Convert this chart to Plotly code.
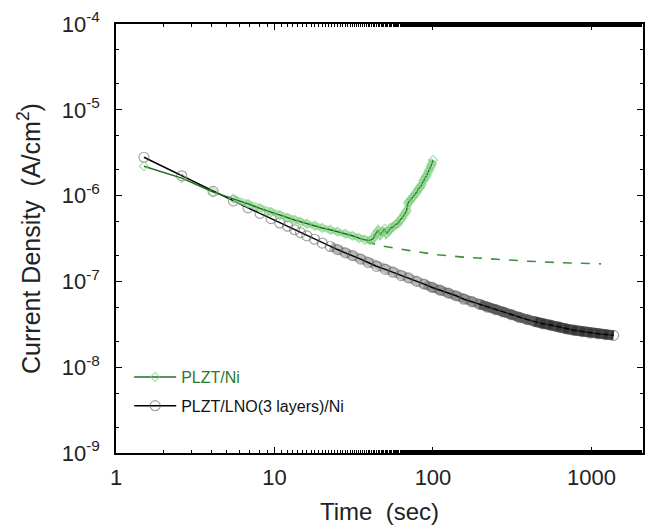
import plotly.graph_objects as go

# ---- data ----
t_lno = [1.5, 2.6, 4.1, 5.5, 6.8, 8.1, 9.5, 10.8, 12.1, 13.4, 14.6, 16, 17.9, 20, 22.5, 25, 28, 31, 35, 39,
         44, 50, 56, 63, 70, 79, 88, 99, 111, 125, 140, 157, 176, 197, 221, 248, 278, 312, 350, 392,
         440, 493, 553, 620, 695, 780, 875, 980, 1100, 1230, 1380]
j_lno = [2.8e-6, 1.7e-6, 1.12e-6, 8.7e-7, 7.2e-7, 6.2e-7, 5.4e-7, 4.8e-7, 4.4e-7, 4.0e-7, 3.7e-7, 3.4e-7,
         3.1e-7, 2.8e-7, 2.55e-7, 2.35e-7, 2.15e-7, 2.0e-7, 1.82e-7, 1.66e-7,
         1.5e-7, 1.38e-7, 1.28e-7, 1.17e-7, 1.1e-7, 1.0e-7, 9.3e-8, 8.5e-8, 7.9e-8, 7.3e-8, 6.8e-8, 6.2e-8,
         5.8e-8, 5.4e-8, 5.0e-8, 4.7e-8, 4.4e-8, 4.1e-8, 3.8e-8, 3.6e-8,
         3.4e-8, 3.2e-8, 3.1e-8, 2.95e-8, 2.8e-8, 2.7e-8, 2.6e-8, 2.5e-8, 2.45e-8, 2.4e-8, 2.35e-8]

t_ni = [1.5, 2.6, 4.1, 5.5, 6.8, 8.1, 9.5, 10.8, 12.1, 13.4, 14.6, 16, 18, 20, 22.5, 25, 28, 31, 34, 37,
        40, 42, 43.5, 45, 46.5, 48, 49.5, 51, 52.5, 54, 56, 58, 60, 62, 64, 66, 68, 69.5, 71, 73,
        75, 77, 79, 81, 83, 85, 87, 89, 91, 93, 95, 97, 98.5, 100]
j_ni = [2.2e-6, 1.6e-6, 1.1e-6, 9.2e-7, 8.0e-7, 7.1e-7, 6.4e-7, 5.9e-7, 5.5e-7, 5.2e-7, 4.95e-7, 4.7e-7,
        4.45e-7, 4.2e-7, 4.0e-7, 3.8e-7, 3.6e-7, 3.4e-7, 3.2e-7, 3.05e-7,
        3.0e-7, 3.15e-7, 3.6e-7, 3.9e-7, 3.5e-7, 3.8e-7, 4.1e-7, 3.6e-7, 3.9e-7, 4.2e-7, 4.3e-7, 4.6e-7,
        4.7e-7, 5.2e-7, 5.5e-7, 6.1e-7, 6.6e-7, 8.2e-7, 8.6e-7, 9.2e-7,
        9.6e-7, 1.05e-6, 1.1e-6, 1.2e-6, 1.25e-6, 1.35e-6, 1.5e-6, 1.6e-6, 1.7e-6, 1.85e-6, 2.0e-6,
        2.2e-6, 2.35e-6, 2.6e-6]

t_ni_fit = [38, 47, 70, 105, 155, 250, 395, 650, 1150]
j_ni_fit = [2.9e-7, 2.6e-7, 2.3e-7, 2.05e-7, 1.92e-7, 1.8e-7, 1.72e-7, 1.65e-7, 1.6e-7]

x_tickvals = [1, 10, 100, 1000]
x_ticktext = ["1", "10", "100", "1000"]
y_tickvals = [1e-4, 1e-5, 1e-6, 1e-7, 1e-8, 1e-9]
y_ticktext = ["10<sup>-4</sup>", "10<sup>-5</sup>", "10<sup>-6</sup>", "10<sup>-7</sup>",
              "10<sup>-8</sup>", "10<sup>-9</sup>"]

FONT = "Liberation Sans, Arial, sans-serif"
GREEN = "#236b23"
LGREEN = "rgba(120,205,120,0.6)"

fig = go.Figure()

# overlapping circles of the LNO data merge into a band (grey, darkening at long times)
for start, col, w in [(14, "rgba(80,80,80,0.40)", 9), (26, "rgba(50,50,50,0.30)", 9.5),
                      (33, "rgba(25,25,25,0.45)", 10), (40, "rgba(10,10,10,0.45)", 10.5)]:
    fig.add_trace(go.Scatter(x=t_lno[start:], y=j_lno[start:], mode="lines",
                             line=dict(color=col, width=w),
                             showlegend=False, hoverinfo="skip"))

fig.add_trace(go.Scatter(x=t_lno, y=j_lno, mode="lines+markers", name="PLZT/LNO(3 layers)/Ni",
                         line=dict(color="black", width=1.5),
                         marker=dict(symbol="circle-open", size=10, color="rgba(90,90,90,0.55)",
                                     line=dict(width=1.2)),
                         legend="legend2"))

fig.add_trace(go.Scatter(x=t_ni_fit, y=j_ni_fit, mode="lines",
                         line=dict(color="#3d8f3d", width=1.6, dash="dash"),
                         showlegend=False, hoverinfo="skip"))

# overlapping diamonds of the Ni data form a light-green halo
fig.add_trace(go.Scatter(x=t_ni[3:], y=j_ni[3:], mode="lines",
                         line=dict(color="rgba(140,215,140,0.65)", width=7),
                         showlegend=False, hoverinfo="skip"))

fig.add_trace(go.Scatter(x=t_ni, y=j_ni, mode="lines+markers", name="PLZT/Ni",
                         line=dict(color=GREEN, width=1.5),
                         marker=dict(symbol="diamond-open", size=7, color=LGREEN,
                                     line=dict(width=1.2)),
                         legend="legend"))

axis_common = dict(showline=True, linecolor="black", linewidth=1.5, mirror="allticks",
                   ticks="inside", ticklen=6, tickwidth=1, tickcolor="black",
                   showgrid=False, zeroline=False,
                   tickfont=dict(family=FONT, size=22, color="#222"),
                   minor=dict(ticks="inside", ticklen=3, tickcolor="black", tickwidth=1, showgrid=False))

fig.update_xaxes(type="log", range=[0, 3.325], tickvals=x_tickvals, ticktext=x_ticktext,
                 title=dict(text="Time  (sec)", font=dict(family=FONT, size=24, color="#222"), standoff=14),
                 ticklabelstandoff=4, **axis_common)
fig.update_yaxes(type="log", range=[-9, -4], tickvals=y_tickvals, ticktext=y_ticktext,
                 title=dict(text="Current Density  (A/cm<sup>2</sup>)",
                            font=dict(family=FONT, size=25, color="#222"), standoff=14),
                 ticklabelstandoff=10, **axis_common)

fig.update_layout(
    width=651, height=530,
    margin=dict(l=116, r=6, t=24, b=77),
    plot_bgcolor="white", paper_bgcolor="white",
    legend=dict(x=0.025, y=0.177, xanchor="left", yanchor="middle", bgcolor="rgba(0,0,0,0)",
                itemwidth=42, font=dict(family=FONT, size=16, color="#2a7a2a")),
    legend2=dict(x=0.025, y=0.110, xanchor="left", yanchor="middle", bgcolor="rgba(0,0,0,0)",
                 itemwidth=42, font=dict(family=FONT, size=16, color="#111")),
)

fig.write_html("out.html")
